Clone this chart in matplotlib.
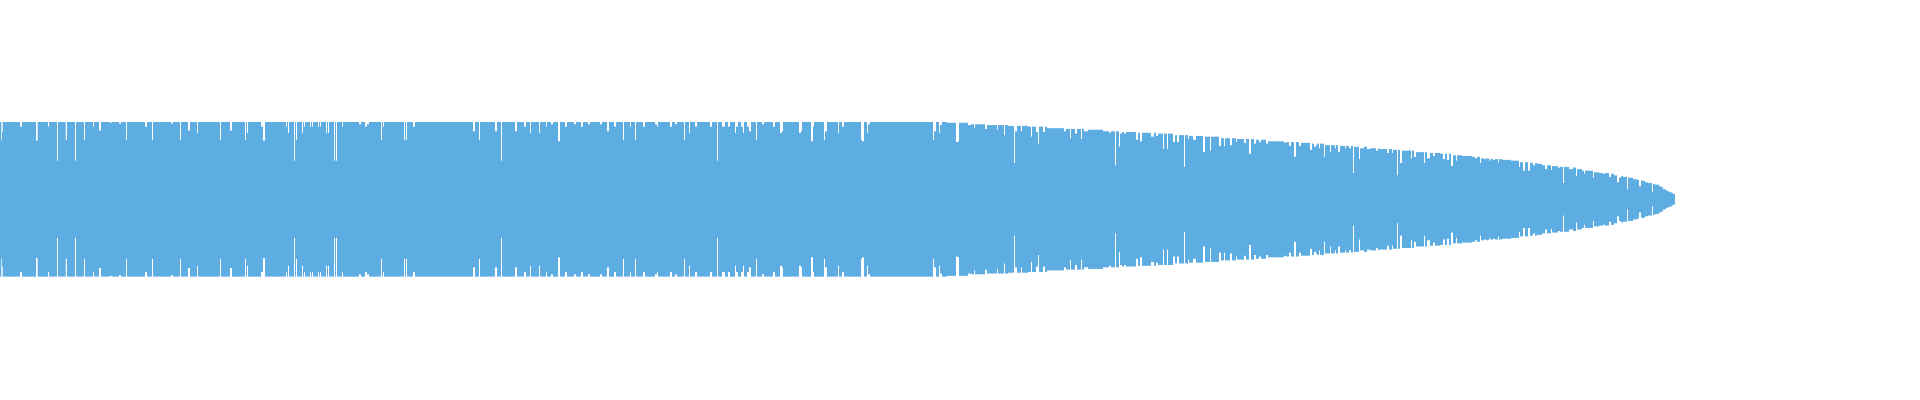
import numpy as np
import matplotlib
matplotlib.use("Agg")
import matplotlib.pyplot as plt

# ---- data (amplitudes normalised to the clipped peak = 1.0) ----
# Flat (clipped) part: full amplitude except for these dips
dip_start = [1, 2.3, 20, 36, 48, 57, 65.7, 75, 84, 93, 99, 110, 119, 126, 145, 152,
             171, 180, 188, 197, 220, 230, 245, 247, 261, 263, 286, 288, 294, 296,
             302, 304, 310, 312, 318, 320, 326, 328, 334, 336, 342, 359, 365, 367,
             381, 383, 404, 406, 413, 473, 479, 495, 501, 515,
             524, 530, 539, 546, 551, 558, 565, 574, 581, 588, 600, 607, 614, 623,
             630, 635, 643, 655, 657, 670, 675, 684, 689, 695, 710, 717, 722, 728,
             735, 736,
             741, 743, 747, 749, 756, 762, 773, 780, 782, 799, 801, 811, 813, 824,
             825, 838, 842, 861, 862, 867, 868, 933, 934, 939, 940]
dip_width = [0.7, 0.7, 2, 1.7, 1, 1, 1.3, 1, 1, 1, 2, 2, 2, 1, 2, 1,
             2, 1, 2, 1, 1, 2, 1, 1, 2, 2, 1, 1, 1, 1,
             1, 1, 1, 1, 1, 1, 1, 1, 1, 1, 1, 2, 2, 2,
             1, 1, 1, 1, 2, 2, 1, 2, 1, 2,
             2, 1, 1, 1, 2, 2, 2, 2, 2, 2, 2, 2, 2, 1,
             1, 1, 2, 2, 1, 2, 2, 1, 1, 2, 2, 1, 3, 2,
             1, 2,
             2, 1, 2, 2, 1, 2, 2, 2, 1, 2, 1, 2, 1, 1,
             2, 1, 2, 1, 2, 1, 2, 1, 2, 1, 2]
dip_amp = [0.76, 0.87, 0.94, 0.76, 0.94, 0.50, 0.77, 0.50, 0.77, 0.94, 0.89, 0.99, 0.98, 0.77, 0.94, 0.77,
           0.98, 0.77, 0.89, 0.86, 0.77, 0.89, 0.77, 0.86, 0.94, 0.76, 0.94, 0.86, 0.50, 0.77,
           0.86, 0.94, 0.94, 0.94, 0.94, 0.94, 0.86, 0.86, 0.50, 0.50, 0.94, 0.97, 0.94, 0.97,
           0.77, 0.94, 0.77, 0.77, 0.94, 0.88, 0.77, 0.88, 0.50, 0.88,
           0.94, 0.86, 0.86, 0.94, 0.97, 0.75, 0.94, 0.97, 0.94, 0.97, 0.97, 0.88, 0.94, 0.77,
           0.94, 0.77, 0.94, 0.97, 0.94, 0.94, 0.97, 0.77, 0.86, 0.94, 0.94, 0.50, 0.94, 0.94,
           0.86, 0.94,
           0.94, 0.86, 0.94, 0.88, 0.77, 0.97, 0.94, 0.86, 0.88, 0.86, 0.88, 0.75, 0.94, 0.77,
           0.88, 0.86, 0.94, 0.77, 0.75, 0.86, 0.97, 0.77, 0.88, 0.86, 0.96]
flat_end = 947

# Decaying tail: step start positions and amplitudes
tail_start = [947, 956, 958, 959, 968, 971, 974, 975, 985, 987, 997, 998, 1004, 1005, 1008,
              1014, 1015, 1017, 1021, 1022, 1028, 1031, 1032, 1036, 1038, 1039, 1043, 1045,
              1047, 1064, 1066, 1070, 1071, 1075, 1077, 1081, 1082, 1084, 1088, 1103, 1109,
              1111, 1115, 1116, 1119, 1120, 1122, 1124, 1126, 1136, 1138, 1140, 1142, 1151,
              1154, 1156, 1158, 1163, 1164, 1167, 1168, 1173, 1175, 1177, 1179, 1184, 1185,
              1188, 1189, 1193, 1196, 1203, 1205, 1210, 1211, 1219, 1221, 1224, 1225, 1230,
              1232, 1236, 1237, 1244, 1246, 1249, 1251, 1254, 1256, 1259, 1261, 1266, 1268,
              1284, 1286, 1289, 1291, 1294, 1296, 1299, 1301, 1310, 1312, 1314, 1316, 1317,
              1319, 1320, 1324, 1325, 1330, 1331, 1335, 1336, 1338, 1340, 1345, 1346, 1349,
              1351, 1353, 1354, 1359, 1360, 1364, 1367, 1370, 1376, 1378, 1379, 1387, 1389,
              1392, 1393, 1397, 1398, 1400, 1402, 1411, 1412, 1414, 1416, 1424, 1425, 1427,
              1430, 1433, 1435, 1440, 1443, 1445, 1447, 1449, 1451, 1453, 1456, 1457, 1462,
              1472, 1475, 1477, 1480, 1481, 1484, 1486, 1489, 1490, 1493, 1495, 1498, 1499,
              1502, 1511, 1519, 1520, 1523, 1525, 1528, 1530, 1533, 1535, 1537, 1542, 1545,
              1547, 1551, 1552, 1558, 1560, 1563, 1564, 1569, 1573, 1576, 1577, 1582, 1584,
              1585, 1593, 1594, 1599, 1603, 1605, 1609, 1611, 1614, 1617, 1619, 1621, 1623,
              1627, 1628, 1633, 1637, 1639, 1641, 1645, 1648, 1652, 1653, 1655, 1659, 1661,
              1663, 1666, 1668, 1670, 1672, 1673, 1674]
tail_amp = [0.99, 0.74, 0.75, 0.99, 0.96, 0.97, 0.92, 0.97, 0.91, 0.96, 0.90, 0.96, 0.83, 0.96, 0.95,
            0.47, 0.88, 0.95, 0.88, 0.95, 0.94, 0.81, 0.94, 0.87, 0.72, 0.94, 0.87, 0.94,
            0.92, 0.88, 0.91, 0.79, 0.91, 0.85, 0.91, 0.78, 0.91, 0.88, 0.90, 0.88, 0.86,
            0.88, 0.44, 0.88, 0.68, 0.85, 0.87, 0.85, 0.87, 0.77, 0.86, 0.75, 0.86, 0.81,
            0.86, 0.82, 0.85, 0.65, 0.85, 0.65, 0.85, 0.74, 0.83, 0.74, 0.83, 0.42, 0.83,
            0.78, 0.82, 0.77, 0.82, 0.61, 0.81, 0.63, 0.81, 0.69, 0.79, 0.69, 0.79, 0.70,
            0.79, 0.74, 0.78, 0.73, 0.78, 0.59, 0.78, 0.72, 0.77, 0.74, 0.77, 0.72, 0.75,
            0.73, 0.74, 0.69, 0.74, 0.55, 0.74, 0.69, 0.73, 0.64, 0.72, 0.68, 0.70, 0.72,
            0.66, 0.72, 0.55, 0.70, 0.61, 0.70, 0.66, 0.70, 0.61, 0.69, 0.66, 0.69, 0.66,
            0.69, 0.34, 0.68, 0.52, 0.66, 0.68, 0.65, 0.66, 0.63, 0.66, 0.65, 0.60, 0.65,
            0.60, 0.64, 0.31, 0.64, 0.47, 0.63, 0.53, 0.63, 0.55, 0.61, 0.47, 0.61, 0.53,
            0.60, 0.56, 0.60, 0.59, 0.52, 0.59, 0.51, 0.59, 0.43, 0.57, 0.50, 0.57, 0.56,
            0.55, 0.53, 0.55, 0.47, 0.53, 0.52, 0.53, 0.50, 0.52, 0.51, 0.52, 0.48, 0.52,
            0.51, 0.50, 0.42, 0.48, 0.37, 0.48, 0.37, 0.47, 0.44, 0.47, 0.46, 0.44, 0.39,
            0.44, 0.38, 0.43, 0.41, 0.42, 0.21, 0.42, 0.39, 0.41, 0.30, 0.39, 0.37, 0.33,
            0.37, 0.28, 0.35, 0.34, 0.33, 0.34, 0.29, 0.33, 0.31, 0.22, 0.28, 0.30, 0.29,
            0.13, 0.28, 0.26, 0.25, 0.17, 0.24, 0.22, 0.21, 0.09, 0.20, 0.19, 0.17, 0.16,
            0.13, 0.11, 0.10, 0.09, 0.08, 0.07, 0.065]
tail_end = 1675

# ---- build step series ----
edges = [0.0]
vals = []
pos = 0.0
for s, w, a in zip(dip_start, dip_width, dip_amp):
    if s > pos:
        vals.append(1.0)
        edges.append(s)
    vals.append(a)
    edges.append(s + w)
    pos = s + w
if pos < flat_end:
    vals.append(1.0)
    edges.append(flat_end)
nxt = tail_start[1:] + [tail_end]
for s, e, a in zip(tail_start, nxt, tail_amp):
    vals.append(a)
    edges.append(e)

vals = np.array(vals)
edges = np.array(edges)

# ---- plot ----
fig = plt.figure(figsize=(19.2, 4), dpi=100)
ax = fig.add_axes([0, 0, 1, 1])
ax.stairs(vals, edges, baseline=-vals, fill=True, color="#5DADE2", linewidth=0)
ax.set_xlim(0, 1920)
ax.set_ylim(-2.596, 2.578)
ax.axis("off")
fig.savefig("out.png", dpi=100, facecolor="white")
